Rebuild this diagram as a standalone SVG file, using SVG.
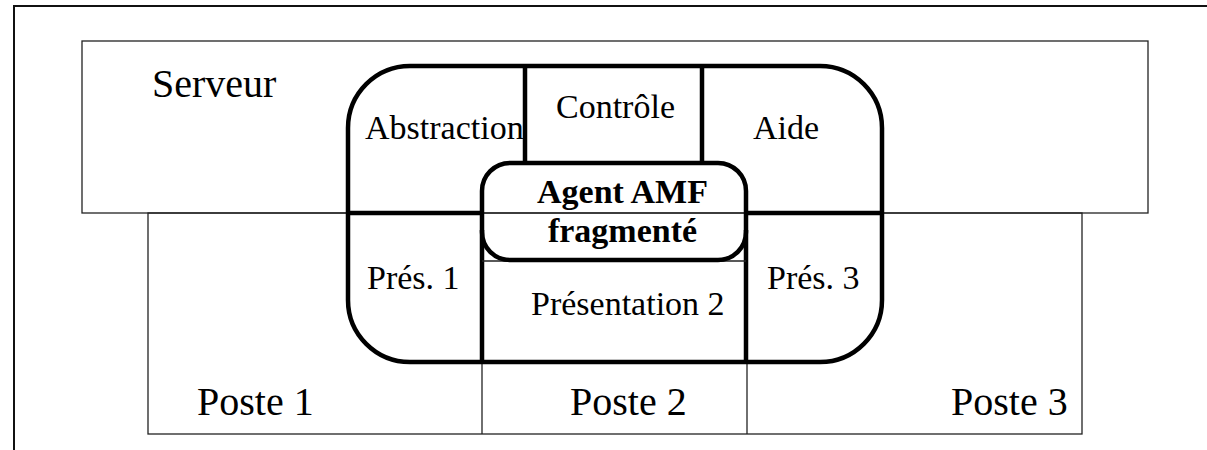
<svg xmlns="http://www.w3.org/2000/svg" width="1207" height="450" viewBox="0 0 1207 450">
  <style>
    .thin { fill: none; stroke: #222; stroke-width: 1.3; }
    .thick { fill: none; stroke: #000; stroke-width: 4.5; stroke-linecap: butt; }
    .lbl { font-family: "Liberation Serif", "Times New Roman", serif; font-size: 34px; fill: #000; }
    .big { font-family: "Liberation Serif", "Times New Roman", serif; font-size: 40px; fill: #000; }
    .bold { font-family: "Liberation Serif", "Times New Roman", serif; font-size: 34px; font-weight: bold; fill: #000; }
  </style>

  <rect x="0" y="0" width="1207" height="450" fill="#fff"/>

  <!-- page frame -->
  <rect x="14" y="6" width="1300" height="600" fill="none" stroke="#111" stroke-width="2"/>

  <!-- server zone -->
  <g id="serveur">
    <rect class="thin" x="82" y="41" width="1066" height="172"/>
    <text class="big" x="152" y="97">Serveur</text>
  </g>

  <!-- workstation zones -->
  <g id="postes">
    <rect class="thin" x="148" y="213" width="934" height="221"/>
    <line class="thin" x1="482" y1="213" x2="482" y2="434"/>
    <line class="thin" x1="747" y1="213" x2="747" y2="434"/>
    <text class="big" x="197" y="415">Poste 1</text>
    <text class="big" x="570" y="415">Poste 2</text>
    <text class="big" x="951" y="415">Poste 3</text>
  </g>

  <!-- fragmented agent outline -->
  <g id="agent-outline">
    <rect class="thick" x="348" y="66" width="534" height="296" rx="62" ry="62" fill="#fff"/>
  </g>

  <!-- facet separators -->
  <g id="connectors">
    <line class="thick" x1="525" y1="66" x2="525" y2="165"/>
    <line class="thick" x1="702" y1="66" x2="702" y2="165"/>
    <line class="thick" x1="348" y1="213" x2="482" y2="213"/>
    <line class="thick" x1="746" y1="213" x2="882" y2="213"/>
    <line class="thick" x1="482" y1="230" x2="482" y2="362"/>
    <line class="thick" x1="746" y1="230" x2="746" y2="362"/>
    <line class="thin" x1="482" y1="261" x2="746" y2="261"/>
  </g>

  <g id="abstraction">
    <text class="lbl" x="365" y="139">Abstraction</text>
  </g>
  <g id="controle">
    <text class="lbl" x="556" y="118">Contrôle</text>
  </g>
  <g id="aide">
    <text class="lbl" x="753" y="139">Aide</text>
  </g>
  <g id="pres1">
    <text class="lbl" x="367" y="289">Prés. 1</text>
  </g>
  <g id="pres3">
    <text class="lbl" x="767" y="289">Prés. 3</text>
  </g>
  <g id="pres2">
    <text class="lbl" x="531" y="315">Présentation 2</text>
  </g>

  <!-- central agent -->
  <g id="agent">
    <rect class="thick" x="482" y="163" width="264" height="97" rx="28" ry="28" fill="#fff"/>
    <text class="bold" x="622.5" y="203" text-anchor="middle">Agent AMF</text>
    <text class="bold" x="622.5" y="242" text-anchor="middle">fragmenté</text>
  </g>
</svg>
